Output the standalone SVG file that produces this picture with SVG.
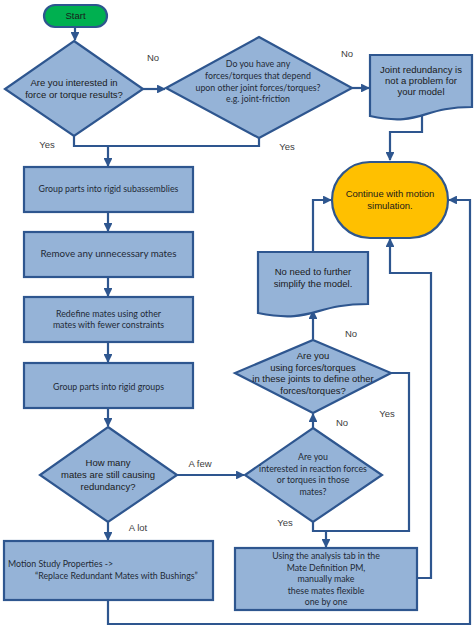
<svg xmlns="http://www.w3.org/2000/svg" width="476" height="628" viewBox="0 0 476 628">
<defs>
<marker id="ah" viewBox="0 0 10 10" refX="9" refY="5" markerWidth="4" markerHeight="4" markerUnits="strokeWidth" orient="auto">
<path d="M0,0 L10,5 L0,10 Z" fill="#2E568F"/>
</marker>
<style>
.shape{fill:#95B3D7;stroke:#2E568F;stroke-width:2.2}
.cont{fill:#FFC000;stroke:#2E568F;stroke-width:2.2}
.start{fill:#00B050;stroke:#2E568F;stroke-width:2.2}
.conn{fill:none;stroke:#2E568F;stroke-width:2.2}
.a{font-family:"Liberation Sans",Arial,sans-serif;font-size:9.5px;fill:#1a1a1a;text-anchor:middle}
.c{font-family:Lato,"Noto Sans",sans-serif;font-size:8.8px;fill:#1f2a36;text-anchor:middle}
.lbl{font-family:"Liberation Sans",Arial,sans-serif;font-size:9.5px;fill:#404040;text-anchor:middle}
</style>
</defs>
<rect width="476" height="628" fill="#ffffff"/>

<g id="connectors">
<path class="conn" d="M75,27 V40" marker-end="url(#ah)"/>
<path class="conn" d="M143,89 H165" marker-end="url(#ah)"/>
<path class="conn" d="M352,88 H369" marker-end="url(#ah)"/>
<path class="conn" d="M422,112 V132 H390 V160" marker-end="url(#ah)"/>
<path class="conn" d="M74,136 V146 H259 V138"/>
<path class="conn" d="M108,146 V166" marker-end="url(#ah)"/>
<path class="conn" d="M108,212 V231" marker-end="url(#ah)"/>
<path class="conn" d="M108,277 V296" marker-end="url(#ah)"/>
<path class="conn" d="M108,342 V362" marker-end="url(#ah)"/>
<path class="conn" d="M108,408 V426" marker-end="url(#ah)"/>
<path class="conn" d="M177,475 H244" marker-end="url(#ah)"/>
<path class="conn" d="M108,522 V540" marker-end="url(#ah)"/>
<path class="conn" d="M313,428 V414" marker-end="url(#ah)"/>
<path class="conn" d="M313,339 V311" marker-end="url(#ah)"/>
<path class="conn" d="M313,252 V200 H331" marker-end="url(#ah)"/>
<path class="conn" d="M391,373 H409 V531 H313 V522"/>
<path class="conn" d="M326,531 V547" marker-end="url(#ah)"/>
<path class="conn" d="M417,578 H431 V273 H390 V239" marker-end="url(#ah)"/>
<path class="conn" d="M108,600 V624 H470 V200 H449" marker-end="url(#ah)"/>
</g>

<g id="start">
<rect class="start" x="44" y="5" width="63" height="22" rx="11"/>
<text class="a" x="75.5" y="19">Start</text>
</g>

<g id="q-force">
<polygon class="shape" points="74,41 143,89 74,136 5,89"/>
<text class="a" x="74" y="85.5">Are you interested in</text>
<text class="a" x="74" y="97.5">force or torque results?</text>
</g>

<g id="q-depend">
<polygon class="shape" points="259,37 352,88 259,138 166,88"/>
<text class="c" x="258" y="67">Do you have any</text>
<text class="c" x="258" y="79">forces/torques that depend</text>
<text class="c" x="258" y="91">upon other joint forces/torques?</text>
<text class="c" x="258" y="102">e.g. joint-friction</text>
</g>

<g id="doc-noproblem">
<path class="shape" d="M370,55 H472 V107 C421,107 421,127 370,116 Z"/>
<text class="a" x="421" y="72.5">Joint redundancy is</text>
<text class="a" x="421" y="83.5">not a problem for</text>
<text class="a" x="421" y="94.5">your model</text>
</g>

<g id="continue">
<rect class="cont" x="332" y="162" width="116" height="76" rx="38"/>
<text class="a" x="390" y="196.5">Continue with motion</text>
<text class="a" x="390" y="208.5">simulation.</text>
</g>

<g id="box-subassemblies">
<rect class="shape" x="24" y="167" width="169" height="45"/>
<text class="c" x="108.5" y="192">Group parts into rigid subassemblies</text>
</g>

<g id="box-remove">
<rect class="shape" x="24" y="232" width="169" height="45"/>
<text class="c" x="108.5" y="257" style="font-size:9.8px">Remove any unnecessary mates</text>
</g>

<g id="box-redefine">
<rect class="shape" x="24" y="297" width="169" height="45"/>
<text class="c" x="108.5" y="316.5">Redefine mates using other</text>
<text class="c" x="108.5" y="327.5">mates with fewer constraints</text>
</g>

<g id="box-groups">
<rect class="shape" x="24" y="363" width="169" height="45"/>
<text class="c" x="108.5" y="389.5">Group parts into rigid groups</text>
</g>

<g id="q-howmany">
<polygon class="shape" points="108,427 177,475 108,522 40,475"/>
<text class="a" x="108" y="465.5">How many</text>
<text class="a" x="108" y="477.5">mates are still causing</text>
<text class="a" x="108" y="489.5">redundancy?</text>
</g>

<g id="q-reaction">
<polygon class="shape" points="313,428 382,475 313,522 245,475"/>
<text class="c" x="313" y="460">Are you</text>
<text class="c" x="313" y="471.5">interested in reaction forces</text>
<text class="c" x="313" y="483">or torques in those</text>
<text class="c" x="313" y="494.5">mates?</text>
</g>

<g id="q-using">
<polygon class="shape" points="313,340 391,373 313,413 235,373"/>
<text class="a" x="313" y="358.5">Are you</text>
<text class="a" x="313" y="370.5">using forces/torques</text>
<text class="a" x="313" y="382">in these joints to define other</text>
<text class="a" x="313" y="394">forces/torques?</text>
</g>

<g id="doc-noneed">
<path class="shape" d="M258,252 H368 V304 C313,304 313,324 258,313 Z"/>
<text class="a" x="313" y="274.5">No need to further</text>
<text class="a" x="313" y="286.5">simplify the model.</text>
</g>

<g id="box-bushings">
<rect class="shape" x="4" y="541" width="209" height="59"/>
<text class="c" x="8" y="567" style="text-anchor:start">Motion Study Properties -&gt;</text>
<text class="c" x="35" y="579" style="text-anchor:start">“Replace Redundant Mates with Bushings”</text>
</g>

<g id="box-manual">
<rect class="shape" x="235" y="548" width="182" height="62"/>
<text class="c" x="326" y="559">Using the analysis tab in the</text>
<text class="c" x="326" y="570.5">Mate Definition PM,</text>
<text class="c" x="326" y="582">manually make</text>
<text class="c" x="326" y="593.5">these mates flexible</text>
<text class="c" x="326" y="605">one by one</text>
</g>

<g id="labels">
<text class="lbl" x="153" y="60.5">No</text>
<text class="lbl" x="347" y="56.5">No</text>
<text class="lbl" x="47" y="147.5">Yes</text>
<text class="lbl" x="287" y="149.5">Yes</text>
<text class="lbl" x="200" y="466.5">A few</text>
<text class="lbl" x="138" y="530.5">A lot</text>
<text class="lbl" x="342" y="425.5">No</text>
<text class="lbl" x="351" y="336.5">No</text>
<text class="lbl" x="387" y="416.5">Yes</text>
<text class="lbl" x="285" y="526">Yes</text>
</g>
</svg>
